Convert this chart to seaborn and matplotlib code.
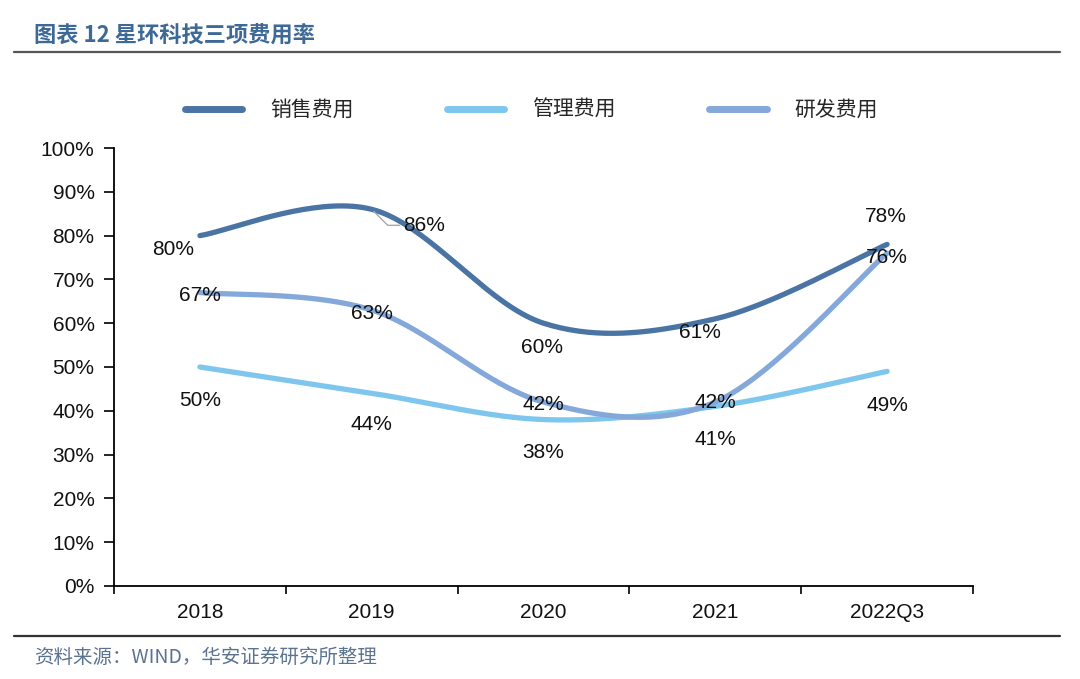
import matplotlib.pyplot as plt
import numpy as np
import pandas as pd
import seaborn as sns
from matplotlib.lines import Line2D


# chart data
periods = ["2018", "2019", "2020", "2021", "2022Q3"]
sales = [80, 86, 60, 61, 78]
admin = [50, 44, 38, 41, 49]
rnd = [67, 63, 42, 42, 76]
series_names = ["销售费用", "管理费用", "研发费用"]
colors = ["#4A74A4", "#7EC6EE", "#84A8DA"]

title = "图表 12 星环科技三项费用率"
source = "资料来源：WIND，华安证券研究所整理"


def smooth_curve(ys, steps=40):
    """Excel style smoothed line: Catmull-Rom segments as cubic Bezier."""
    pts = np.column_stack([np.arange(len(ys)), ys]).astype(float)
    ext = np.vstack([pts[0], pts, pts[-1]])
    out = []
    t = np.linspace(0, 1, steps)[:, None]
    for i in range(len(pts) - 1):
        p0, p1, p2, p3 = ext[i], ext[i + 1], ext[i + 2], ext[i + 3]
        c1 = p1 + (p2 - p0) / 6
        c2 = p2 - (p3 - p1) / 6
        seg = ((1 - t) ** 3) * p1 + 3 * ((1 - t) ** 2) * t * c1 \
            + 3 * (1 - t) * t ** 2 * c2 + t ** 3 * p2
        out.append(seg if i == 0 else seg[1:])
    return np.vstack(out)


sns.set_style("white")
plt.rcParams["font.family"] = ["Liberation Sans", "Noto Sans CJK SC", "DejaVu Sans"]

fig = plt.figure(figsize=(10.8, 6.79), dpi=100)
ax = fig.add_axes([0.1056, 0.137, 0.7953, 0.645])

frames = []
for name, vals in zip(series_names, [sales, admin, rnd]):
    curve = smooth_curve(vals)
    frames.append(pd.DataFrame({"x": curve[:, 0], "y": curve[:, 1], "series": name}))
df = pd.concat(frames, ignore_index=True)

sns.lineplot(data=df, x="x", y="y", hue="series", palette=dict(zip(series_names, colors)),
             estimator=None, sort=False, linewidth=3.8, legend=False, ax=ax)
for ln in ax.get_lines():
    ln.set_solid_capstyle("round")

ax.set_xlim(-0.5, len(periods) - 0.5)
ax.set_ylim(0, 100)
ax.set_yticks(range(0, 101, 10))
ax.set_yticklabels([f"{v}%" for v in range(0, 101, 10)])
ax.set_xticks(range(len(periods)))
ax.set_xticklabels(periods)
ax.set_xticks(np.arange(-0.5, len(periods), 1), minor=True)
ax.set_xlabel("")
ax.set_ylabel("")
ax.tick_params(axis="x", which="major", bottom=False, length=0, pad=12, labelsize=15,
               labelcolor="#111111")
ax.tick_params(axis="x", which="minor", bottom=True, length=6, width=1.2,
               direction="out", color="black")
ax.tick_params(axis="y", left=True, length=7, width=1.2, direction="out", pad=7,
               labelsize=15, labelcolor="#111111", color="black")
for side in ["top", "right"]:
    ax.spines[side].set_visible(False)
for side in ["left", "bottom"]:
    ax.spines[side].set_color("black")
    ax.spines[side].set_linewidth(1.3)

# data labels (offsets in pixels)
sales_off = [(-27, -14), (52, -16), (-2, -24), (-15, -14), (-1, 28)]
admin_off = [(0, -34), (0, -31), (0, -33), (0, -33), (0, -34)]
rnd_off = [(0, -3), (0, -3), (0, -2), (0, 0), (0, -4)]
for vals, offs in [(sales, sales_off), (admin, admin_off), (rnd, rnd_off)]:
    for i, (v, off) in enumerate(zip(vals, offs)):
        kw = {}
        if vals is sales and i == 1:
            kw["arrowprops"] = dict(arrowstyle="-", color="#a8a8a8", lw=1,
                                    connectionstyle="angle,angleA=0,angleB=-45",
                                    shrinkA=0, shrinkB=2)
        ax.annotate(f"{v}%", xy=(i, v), xytext=off, textcoords="offset pixels",
                    ha="center", va="center", fontsize=15, color="#111111", **kw)

# legend
handles = [Line2D([], [], color=c, lw=5, solid_capstyle="round") for c in colors]
fig.legend(handles, series_names, loc="center", bbox_to_anchor=(0.492, 0.838), ncol=3,
           frameon=False, handlelength=2.74, handletextpad=1.35,
           columnspacing=4.5, prop={"family": ["Noto Sans CJK SC"], "size": 15})

# title, rules and source
fig.text(34 / 1080, 1 - 35 / 679, title, fontsize=16, fontweight="bold", color="#3D6996",
         ha="left", va="center", family=["Noto Sans CJK SC", "DejaVu Sans"])
fig.add_artist(Line2D([14 / 1080, 1060 / 1080], [1 - 52 / 679] * 2, color="#555555",
                      lw=1.6, transform=fig.transFigure))
fig.add_artist(Line2D([14 / 1080, 1060 / 1080], [1 - 636 / 679] * 2, color="#333333",
                      lw=1.6, transform=fig.transFigure))
fig.text(34 / 1080, 1 - 657 / 679, source, fontsize=14, color="#5B7391",
         ha="left", va="center", family=["Noto Sans CJK SC", "DejaVu Sans"])

fig.savefig("out.png", dpi=100)
